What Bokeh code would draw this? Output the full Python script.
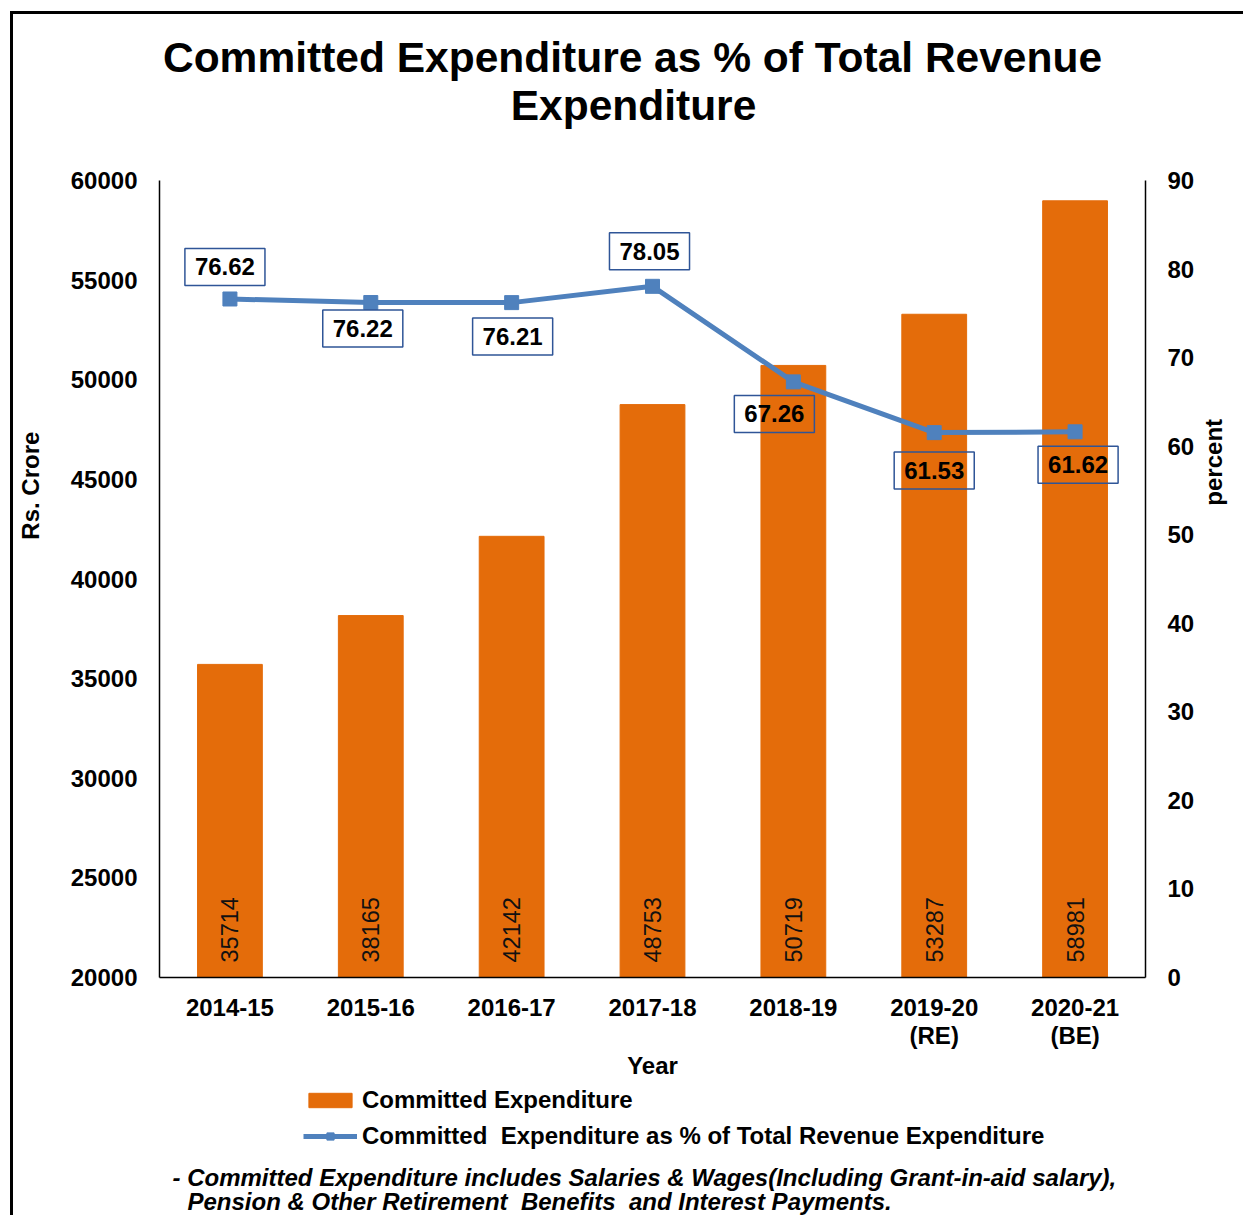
import math
from bokeh.plotting import figure
from bokeh.layouts import column
from bokeh.models import (Range1d, LinearAxis, FixedTicker, Label, Legend, LegendItem,
                          ColumnDataSource)
from bokeh.core.properties import value
from bokeh.embed import file_html
from bokeh.resources import INLINE

NB = "\u00a0"
years = ["2014-15", "2015-16", "2016-17", "2017-18", "2018-19", "2019-20\n(RE)", "2020-21\n(BE)"]
committed = [35714, 38165, 42142, 48753, 50719, 53287, 58981]
pct = [76.62, 76.22, 76.21, 78.05, 67.26, 61.53, 61.62]
pct_labels = ["76.62", "76.22", "76.21", "78.05", "67.26", "61.53", "61.62"]
left_ticks = [20000, 25000, 30000, 35000, 40000, 45000, 50000, 55000, 60000]
right_ticks = [0, 10, 20, 30, 40, 50, 60, 70, 80, 90]
title_lines = ["Committed Expenditure as % of Total Revenue", "Expenditure"]
note_lines = ["- Committed Expenditure includes Salaries & Wages(Including Grant-in-aid salary),",
              "Pension & Other Retirement" + NB + " Benefits" + NB + " and Interest Payments."]
series_names = ["Committed Expenditure", "Committed  Expenditure as % of Total Revenue Expenditure"]
y_left_title = "Rs. Crore"
y_right_title = "percent"
x_title = "Year"

# label offsets (screen px, from point to label-box centre)
lbl_dx = [-5, -8, 1, -3, -19, 0, 3]
lbl_dy = [32, -26, -34, 35, -32, -38, -33]

FONT = "Liberation Sans"
ORANGE = "#E46C0A"
BLUE = "#4F81BD"

W = 1230
FL, FR = 146, 98          # frame borders (left / right) shared by all rows
H_TOP, H_MAIN, H_FOOT = 150, 921, 130

xc = [i + 0.5 for i in range(len(years))]


def blank(h):
    f = figure(width=W, height=h, output_backend="svg", toolbar_location=None,
               x_range=Range1d(FL, W - FR), y_range=Range1d(h, 0),
               x_axis_type=None, y_axis_type=None,
               min_border_left=FL, min_border_right=FR, min_border_top=0, min_border_bottom=0)
    f.outline_line_color = None
    f.xgrid.visible = False
    f.ygrid.visible = False
    return f


# ---- title ----
top = blank(H_TOP)
top.text(x=[619, 620], y=[43, 91], text=title_lines, text_align="center",
         text_baseline="middle", text_font=value(FONT), text_font_size="42.5px",
         text_font_style="bold", text_color="black")

# ---- main chart ----
p = figure(width=W, height=H_MAIN, output_backend="svg", toolbar_location=None,
           x_range=Range1d(0, len(years)), y_range=Range1d(20000, 60000),
           min_border_left=FL, min_border_right=FR, min_border_top=16,
           min_border_bottom=108)
p.outline_line_color = None
p.xgrid.visible = False
p.ygrid.visible = False
p.extra_y_ranges = {"pct": Range1d(0, 90)}

src = ColumnDataSource(dict(x=xc, committed=committed, pct=pct,
                            txt=[str(v) for v in committed]))

bars = p.vbar(x="x", top="committed", bottom=20000, width=0.46, source=src,
              fill_color=ORANGE, line_color=ORANGE)
p.text(x="x", y=20000, text="txt", source=src, angle=math.pi / 2,
       text_align="left", text_baseline="middle", y_offset=-15,
       text_font=value(FONT), text_font_size="23.5px", text_color="#111111")

ln = p.line(x="x", y="pct", source=src, y_range_name="pct", line_color=BLUE, line_width=5)
mk = p.scatter(x="x", y="pct", source=src, y_range_name="pct", marker="square",
               size=14, fill_color=BLUE, line_color=BLUE)

for i in range(len(years)):
    p.add_layout(Label(x=xc[i], y=pct[i], y_range_name="pct", text=pct_labels[i],
                       x_offset=lbl_dx[i], y_offset=lbl_dy[i],
                       text_align="center", text_baseline="middle",
                       text_font=FONT, text_font_size="24px", text_font_style="bold",
                       text_color="black", border_line_color="#2F5597", border_line_width=1.5,
                       background_fill_color=None, padding=10))

ax_l = p.yaxis[0]
ax_l.ticker = FixedTicker(ticks=left_ticks)
ax_l.axis_label = NB * 28 + y_left_title          # leading blanks lift the title as in the original
ax_r = LinearAxis(y_range_name="pct", ticker=FixedTicker(ticks=right_ticks))
p.add_layout(ax_r, "right")
ax_r.axis_label = NB * 11 + y_right_title
if "axis_label_orientation" in ax_r.properties():
    ax_r.axis_label_orientation = math.pi / 2
ax_b = p.xaxis[0]
ax_b.ticker = FixedTicker(ticks=xc)
ax_b.major_label_overrides = {xc[i]: years[i] for i in range(len(years))}
ax_b.axis_label = x_title

for ax in (ax_l, ax_r, ax_b):
    ax.major_tick_line_color = None
    ax.minor_tick_line_color = None
    ax.major_tick_out = 0
    ax.major_tick_in = 0
    ax.minor_tick_out = 0
    ax.minor_tick_in = 0
    ax.axis_line_color = "black"
    ax.axis_line_width = 1.5
    ax.major_label_text_font = FONT
    ax.major_label_text_font_size = "24px"
    ax.major_label_text_font_style = "bold"
    ax.major_label_text_color = "black"
    ax.axis_label_text_font = FONT
    ax.axis_label_text_font_size = "24px"
    ax.axis_label_text_font_style = "bold"
    ax.axis_label_text_color = "black"
    ax.major_label_standoff = 22
ax_l.axis_label_standoff = 24
ax_r.axis_label_standoff = 16
ax_b.major_label_standoff = 16
ax_b.major_label_text_line_height = 1.05
ax_b.axis_label_standoff = 0

# ---- legend + footnote ----
foot = blank(H_FOOT)
nan = float("nan")
lg_bar = foot.vbar(x=[nan], top=[nan], bottom=[nan], width=1, fill_color=ORANGE, line_color=ORANGE)
lg_ln = foot.line(x=[nan, nan], y=[nan, nan], line_color=BLUE, line_width=5)
lg_mk = foot.scatter(x=[nan], y=[nan], marker="square", size=14, fill_color=BLUE, line_color=BLUE)
legend = Legend(items=[LegendItem(label=series_names[0], renderers=[lg_bar]),
                       LegendItem(label=series_names[1], renderers=[lg_ln, lg_mk])],
                location=(144, 65), orientation="vertical",
                padding=0, margin=0, border_line_color=None, background_fill_alpha=0,
                glyph_width=54, glyph_height=18, label_height=18, spacing=8,
                label_standoff=5, label_text_font=FONT, label_text_font_size="24px",
                label_text_font_style="bold", label_text_color="black")
foot.add_layout(legend)
foot.text(x=[159, 174], y=[92, 116], text=note_lines, text_align="left",
          text_baseline="middle", text_font=value(FONT), text_font_size="24px",
          text_font_style="bold italic", text_color="black")

lay = column(top, p, foot, spacing=0)
lay.styles = {"border-left": "3px solid black", "border-top": "3px solid black",
              "margin-left": "10px", "margin-top": "11px"}

open("out.html", "w").write(file_html(lay, INLINE))
